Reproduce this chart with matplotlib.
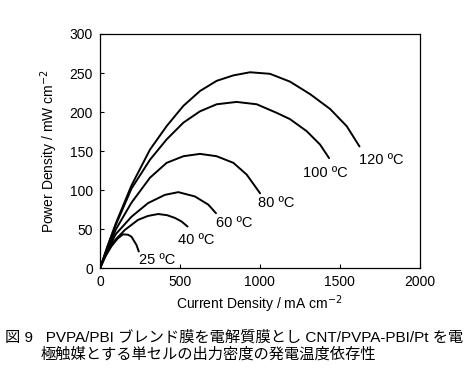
import matplotlib
matplotlib.use('Agg')
import matplotlib.pyplot as plt

plt.rcParams['font.family'] = ['Liberation Sans', 'Noto Sans CJK JP', 'DejaVu Sans']

# current density (mA cm-2) and power density (mW cm-2)
i_120 = [0, 50, 100, 197, 313, 417, 522, 626, 730, 835, 939, 1064, 1189, 1315, 1440, 1544, 1624]
p_120 = [0, 30, 58, 106, 152, 182, 208, 227, 240, 247, 251, 249, 239, 223, 204, 182, 156]
i_100 = [0, 50, 100, 197, 313, 417, 522, 626, 730, 855, 981, 1106, 1189, 1294, 1377, 1434]
p_100 = [0, 29, 56, 102, 139, 165, 186.5, 201, 210, 213, 210, 199, 191, 175.5, 158.5, 141]
i_80 = [0, 50, 100, 197, 313, 417, 522, 626, 730, 835, 918, 1002]
p_80 = [0, 27, 50, 84, 116, 135, 143.5, 146.5, 143.5, 135, 120, 96]
i_60 = [0, 50, 100, 197, 301, 406, 490, 594, 678, 726]
p_60 = [0, 25, 44, 66, 83.5, 94, 97.5, 92, 81.5, 70.5]
i_40 = [0, 40, 80, 155, 238, 300, 364, 420, 469, 510, 548]
p_40 = [0, 18, 33, 49, 62, 67, 69.5, 68, 64.5, 60, 53.5]
i_25 = [0, 30, 71, 110, 144, 175, 197, 228, 243]
p_25 = [0, 14, 28, 38, 43.5, 43, 40.5, 30, 21.5]

curves = [(i_120, p_120), (i_100, p_100), (i_80, p_80),
          (i_60, p_60), (i_40, p_40), (i_25, p_25)]
labels = ['120 ºC', '100 ºC', '80 ºC', '60 ºC', '40 ºC', '25 ºC']
label_pos = [(1762, 139), (1412, 122), (1101, 84), (839, 58), (604, 36), (360, 10)]

fig = plt.figure(figsize=(4.77, 3.81), dpi=100)
ax = fig.add_axes([0.2096, 0.2958, 0.67, 0.615])

for (x, y) in curves:
    ax.plot(x, y, color='black', lw=1.4, solid_joinstyle='round', solid_capstyle='round')

for txt, (tx, ty) in zip(labels, label_pos):
    ax.text(tx, ty, txt, fontsize=10.5, ha='center', va='center')

ax.set_xlim(0, 2000)
ax.set_ylim(0, 300)
ax.set_xticks([0, 500, 1000, 1500, 2000])
ax.set_yticks([0, 50, 100, 150, 200, 250, 300])
ax.tick_params(direction='in', length=3, width=0.8, labelsize=10, pad=5)
for s in ax.spines.values():
    s.set_linewidth(0.9)

ax.set_xlabel('Current Density / mA cm$^{-2}$', fontsize=10, labelpad=3)
ax.set_ylabel('Power Density / mW cm$^{-2}$', fontsize=10, labelpad=7)

fig.text(0.010, 0.115, '図 9   PVPA/PBI ブレンド膜を電解質膜とし CNT/PVPA-PBI/Pt を電',
         fontsize=11, va='center', family=['Liberation Sans', 'Noto Sans CJK JP'])
fig.text(0.086, 0.07, '極触媒とする単セルの出力密度の発電温度依存性',
         fontsize=11, va='center', family=['Noto Sans CJK JP', 'DejaVu Sans'])

fig.savefig('out.png', dpi=100)
